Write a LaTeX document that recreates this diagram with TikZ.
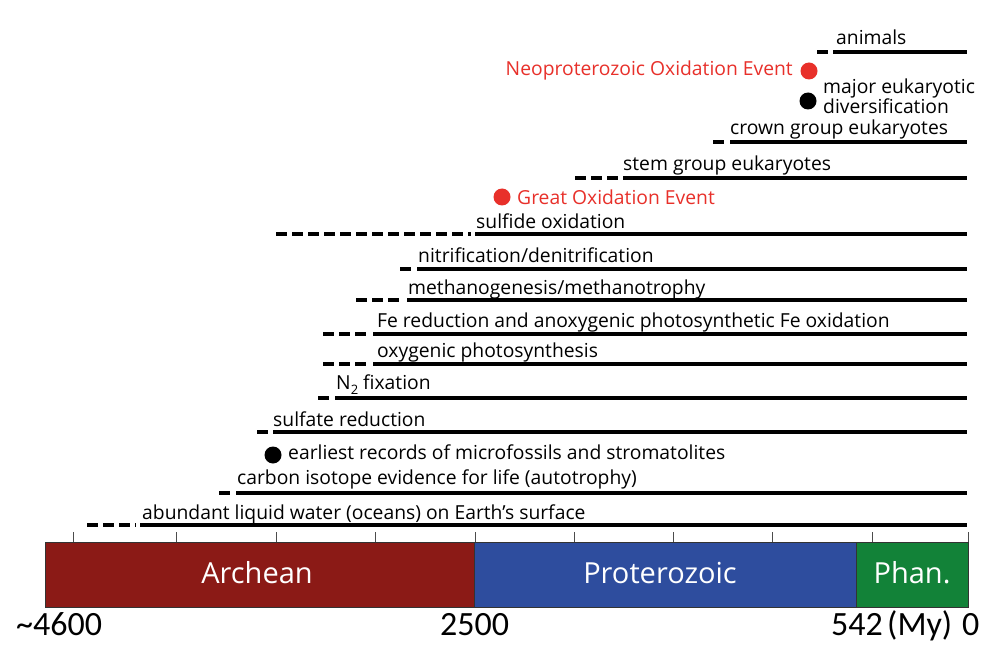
\documentclass[tikz,border=0pt]{standalone}
\usepackage{fontspec}
\setmainfont{Open Sans}
\newfontfamily\axfont{Carlito}
\definecolor{evred}{HTML}{E8302A}
\definecolor{archcol}{HTML}{8B1A16}
\definecolor{protcol}{HTML}{2E4D9E}
\definecolor{phancol}{HTML}{128238}
\begin{document}
\begin{tikzpicture}[x=1pt,y=-1pt,
  lbl/.style={anchor=base west, inner sep=0pt, font=\fontsize{19.3}{20}\selectfont},
  redlbl/.style={lbl, text=evred},
  sline/.style={line width=4pt},
  dline/.style={line width=4pt, dash pattern=on 11pt off 5pt},
  dotb/.style={circle, fill=black, minimum size=17pt, inner sep=0pt},
  dotr/.style={dotb, fill=evred},
  tickmark/.style={line width=0.8pt, draw=black!70},
  era/.style={draw=black!80, line width=0.6pt},
  eralbl/.style={text=white, inner sep=0pt, font=\fontsize{29}{30}\selectfont},
  axlbl/.style={anchor=base west, inner sep=0pt, font=\axfont\fontsize{34}{36}\selectfont}]
\path[use as bounding box, fill=white] (0,0) rectangle (992,652);

% timeline bars
\foreach \n/\y/\ds/\ss in {anim/52/817/833, crown/142/713/730, stem/178/575/623,
  sulf/234/276/475, nitr/269/400/417, meth/300/356/407, fered/334/323/373,
  oxyp/364/323/373, ntwo/398/318/335, sred/432/257/273, ciso/493/219/236,
  water/525/87/140} {
  \coordinate (\n d) at (\ds,\y);
  \coordinate (\n s) at (\ss,\y);
  \coordinate (\n e) at (967,\y);
  \draw[dline] (\n d) -- ([xshift=-4pt]\n s);
  \draw[sline] (\n s) -- (\n e);
}

% labels
\node[lbl] (lanim) at (836,45) {animals};
\node[dotr] (dneo) at (809,71) {};
\node[redlbl, anchor=base east] (lneo) at (793,76) {Neoproterozoic Oxidation Event};
\node[dotb] (dmaj) at (808,101) {};
\node[lbl, align=left] (lmaj) at (823,114) {major eukaryotic\\diversification};
\node[lbl] (lcrown) at (730,135) {crown group eukaryotes};
\node[lbl] (lstem) at (623,171) {stem group eukaryotes};
\node[dotr] (dgoe) at (502,197) {};
\node[redlbl] (lgoe) at (517,205) {Great Oxidation Event};
\node[lbl] (lsulf) at (476,229) {sulfide oxidation};
\node[lbl] (lnitr) at (418,262) {nitrification/denitrification};
\node[lbl] (lmeth) at (408,294) {methanogenesis/methanotrophy};
\node[lbl] (lfe) at (377,327) {Fe reduction and anoxygenic photosynthetic Fe oxidation};
\node[lbl] (loxy) at (377,357) {oxygenic photosynthesis};
\node[lbl] (lntwo) at (336,389) {N\raisebox{-0.3em}{\fontsize{13}{13}\selectfont 2} fixation};
\node[lbl] (lsred) at (273,426) {sulfate reduction};
\node[dotb] (dmic) at (273,455) {};
\node[lbl] (lmic) at (288,459) {earliest records of microfossils and stromatolites};
\node[lbl] (lciso) at (237,484) {carbon isotope evidence for life (autotrophy)};
\node[lbl] (lwater) at (142,519) {abundant liquid water (oceans) on Earth’s surface};

% ticks
\foreach \x in {73,176,276,375,475,574,673,772,872,968}
  \draw[tickmark] (\x,532) -- (\x,542);

% eras
\fill[archcol] (45,542) rectangle (474,607);
\fill[protcol] (474,542) rectangle (856,607);
\fill[phancol] (856,542) rectangle (968,607);
\draw[era] (45,542) rectangle (968,607);
\draw[era] (474,542) -- (474,607);
\draw[era] (856,542) -- (856,607);
\node[eralbl] (arch) at (257,573) {Archean};
\node[eralbl] (prot) at (660,573) {Proterozoic};
\node[eralbl] (phan) at (912,573) {Phan.};

% axis labels
\node[axlbl] (a4600) at (16,635) {\textasciitilde4600};
\node[axlbl] (a2500) at (440,635) {2500};
\node[axlbl] (a542) at (831,635) {542};
\node[axlbl] (amy) at (887,635) {(My)};
\node[axlbl] (azero) at (962,635) {0};
\end{tikzpicture}
\end{document}
